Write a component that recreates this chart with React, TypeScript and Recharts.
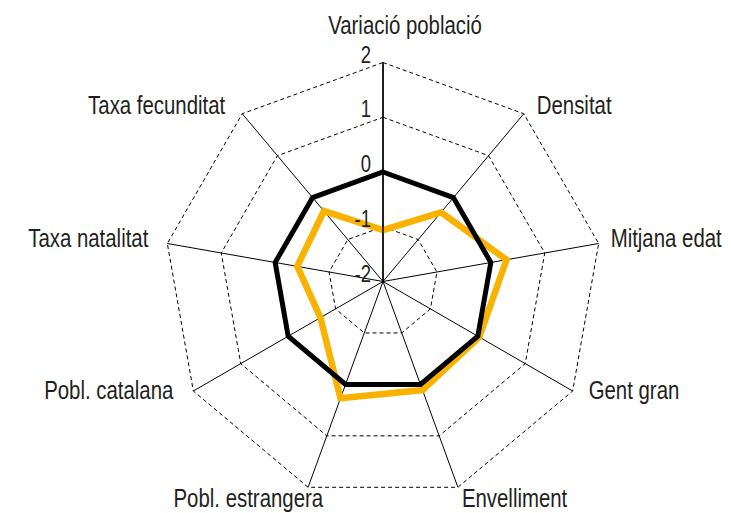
import React from "react";
import {
  RadarChart,
  Radar,
  PolarGrid,
  PolarAngleAxis,
  PolarRadiusAxis,
} from "recharts";

// eixos del radar (sentit horari des de dalt)
const CATEGORIES = [
  "Variació població",
  "Densitat",
  "Mitjana edat",
  "Gent gran",
  "Envelliment",
  "Pobl. estrangera",
  "Pobl. catalana",
  "Taxa natalitat",
  "Taxa fecunditat",
];

// referència (negre) i territori (taronja), valors estandarditzats
const REFERENCE_VALUES = [0, 0, 0, 0, 0, 0, 0, 0, 0];
const TERRITORY_VALUES = [-1.06, -0.35, 0.29, 0.03, 0.11, 0.27, -0.68, -0.41, -0.32];

const RADIUS_TICKS = [-2, -1, 0, 1, 2];

const data = CATEGORIES.map((label, i) => ({
  label,
  reference: REFERENCE_VALUES[i],
  territory: TERRITORY_VALUES[i],
}));

const W = 731;
const H = 513;
const CX = 383;
const CY = 281.5;
const R = 219;
const FONT = "'Liberation Sans', Arial, sans-serif";
// tipus condensat simulat: Liberation Sans estreta horitzontalment
const NARROW = 0.77;

// posició de cada etiqueta respecte al vèrtex exterior
const LABEL_LAYOUT: { anchor: "start" | "middle" | "end"; dx: number; dy: number }[] = [
  { anchor: "middle", dx: 22, dy: -29 },
  { anchor: "start", dx: 13, dy: 0 },
  { anchor: "start", dx: 12, dy: 4 },
  { anchor: "start", dx: 16, dy: 8 },
  { anchor: "start", dx: 4, dy: 20 },
  { anchor: "end", dx: 15, dy: 20 },
  { anchor: "end", dx: -20, dy: 8 },
  { anchor: "end", dx: -19, dy: 4 },
  { anchor: "end", dx: -17, dy: 0 },
];

function AngleTick(props: any) {
  const i = Number(props.index ?? props.payload?.index ?? 0);
  const angle = ((90 - (i * 360) / CATEGORIES.length) * Math.PI) / 180;
  const vx = CX + R * Math.cos(angle);
  const vy = CY - R * Math.sin(angle);
  const l = LABEL_LAYOUT[i] ?? { anchor: "middle", dx: 0, dy: 0 };
  return (
    <text
      transform={`translate(${vx + l.dx}, ${vy + l.dy}) scale(${NARROW}, 1)`}
      x={0}
      y={0}
      textAnchor={l.anchor}
      fill="#231f20"
      fontSize={26.5}
      fontFamily={FONT}
    >
      {props.payload?.value}
    </text>
  );
}

function RadiusTick(props: any) {
  const x = Number(props.x);
  const y = Number(props.y);
  return (
    <text
      transform={`translate(${x - 12}, ${y}) scale(${NARROW}, 1)`}
      x={0}
      y={0}
      textAnchor="end"
      fill="#231f20"
      fontSize={24}
      fontFamily={FONT}
    >
      {props.payload?.value}
    </text>
  );
}

export default function App() {
  return (
    <div
      style={{
        position: "absolute",
        left: 0,
        top: 0,
        width: W,
        height: H,
        background: "#fff",
      }}
    >
      <RadarChart
        width={W}
        height={H}
        data={data}
        cx={CX}
        cy={CY}
        outerRadius={R}
        margin={{ top: 0, right: 0, bottom: 0, left: 0 }}
      >
        {/* anells discontinus */}
        <PolarGrid
          gridType="polygon"
          radialLines={false}
          stroke="#000"
          strokeWidth={1}
          strokeDasharray="4 3"
        />
        {/* radis continus */}
        <PolarGrid
          gridType="polygon"
          polarRadius={[]}
          stroke="#000"
          strokeWidth={1}
        />
        <PolarAngleAxis
          dataKey="label"
          tick={<AngleTick />}
          tickLine={false}
          axisLine={false}
        />
        <PolarRadiusAxis
          angle={90}
          type="number"
          domain={[-2, 2]}
          ticks={RADIUS_TICKS as any}
          tickCount={5}
          tick={<RadiusTick />}
          axisLine={{ stroke: "#000", strokeWidth: 1.5 }}
          tickLine={false}
        />
        <Radar
          name="Territori"
          dataKey="territory"
          stroke="#f9b200"
          strokeWidth={6.5}
          fill="none"
          fillOpacity={0}
          dot={false}
          isAnimationActive={false}
        />
        <Radar
          name="Referència"
          dataKey="reference"
          stroke="#000"
          strokeWidth={5}
          fill="none"
          fillOpacity={0}
          dot={false}
          isAnimationActive={false}
        />
      </RadarChart>
    </div>
  );
}
